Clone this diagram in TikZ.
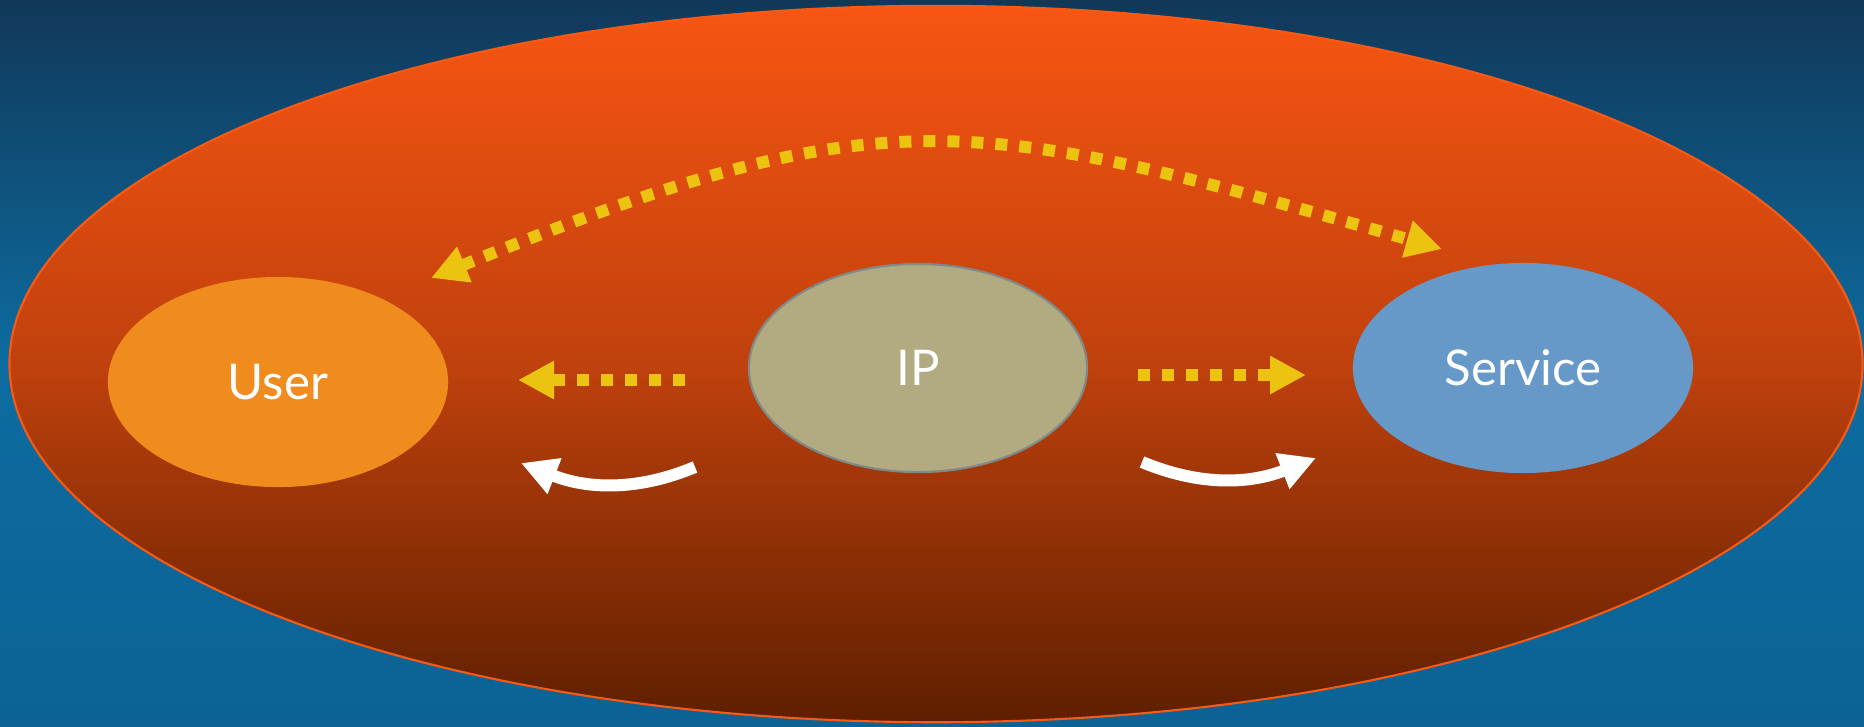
\documentclass[tikz,border=0pt]{standalone}
\usepackage{fontspec}
\setmainfont{Lato}
\usetikzlibrary{arrows.meta,shapes.geometric}

\definecolor{skytop}{HTML}{113859}
\definecolor{skymid}{HTML}{0D6CA0}
\definecolor{skybot}{HTML}{0C6294}
\definecolor{rimtop}{HTML}{F85512}
\definecolor{rimmid}{HTML}{C0410D}
\definecolor{rimbot}{HTML}{5E1F00}
\definecolor{rimline}{HTML}{F85A14}
\definecolor{useror}{HTML}{F08C1E}
\definecolor{ipkhaki}{HTML}{B2AA80}
\definecolor{ipline}{HTML}{7E8A8A}
\definecolor{serviceblue}{HTML}{6699C8}
\definecolor{arrowgold}{HTML}{EDC312}

\begin{document}
\begin{tikzpicture}[x=0.01cm,y=-0.01cm,
  >={Triangle[length=3.6mm,width=3.6mm]},
  blob/.style={ellipse,inner sep=0pt,minimum width=3.4cm,minimum height=2.1cm,
    text=white,font=\fontsize{14}{16}\selectfont},
  dotlink/.style={draw=arrowgold,line width=1.2mm,dash pattern=on 1.2mm off 1.2mm},
  flowlink/.style={draw=white,line width=1.2mm,->}]
\useasboundingbox (0,0) rectangle (1864,726);
\shade[top color=skytop,bottom color=skybot,middle color=skymid] (0,0) rectangle (1864,726);

\node[ellipse,inner sep=0pt,minimum width=18.52cm,minimum height=7.16cm,
  draw=rimline,line width=0.6pt,top color=rimtop,bottom color=rimbot,middle color=rimmid]
  (ring) at (936,364) {};

\node[blob,fill=useror] (user) at (278,382) {User};
\node[blob,fill=ipkhaki,draw=ipline,line width=0.6pt,minimum width=3.38cm,minimum height=2.08cm] (ip) at (918,368) {IP};
\node[blob,fill=serviceblue] (service) at (1523,368) {Service};

\coordinate (ipL) at (685,380);
\coordinate (userR) at (518,380);
\coordinate (ipR) at (1138,375);
\coordinate (serviceL) at (1306,375);
\coordinate (userT) at (431,278);
\coordinate (serviceT) at (1442,249);
\coordinate (ipBL) at (695,467);
\coordinate (userB) at (521,463);
\coordinate (ipBR) at (1142,462);
\coordinate (serviceB) at (1316,458);

\draw[dotlink,->] (ipL) -- (userR);
\draw[dotlink,->] (ipR) -- (serviceL);
\draw[dotlink,<->] (userT) .. controls (885,94) and (971,114) .. (serviceT);

\draw[flowlink] (ipBL) .. controls (640,490) and (590,490) .. (userB);
\draw[flowlink] (ipBR) .. controls (1197,485) and (1247,485) .. (serviceB);
\end{tikzpicture}
\end{document}
